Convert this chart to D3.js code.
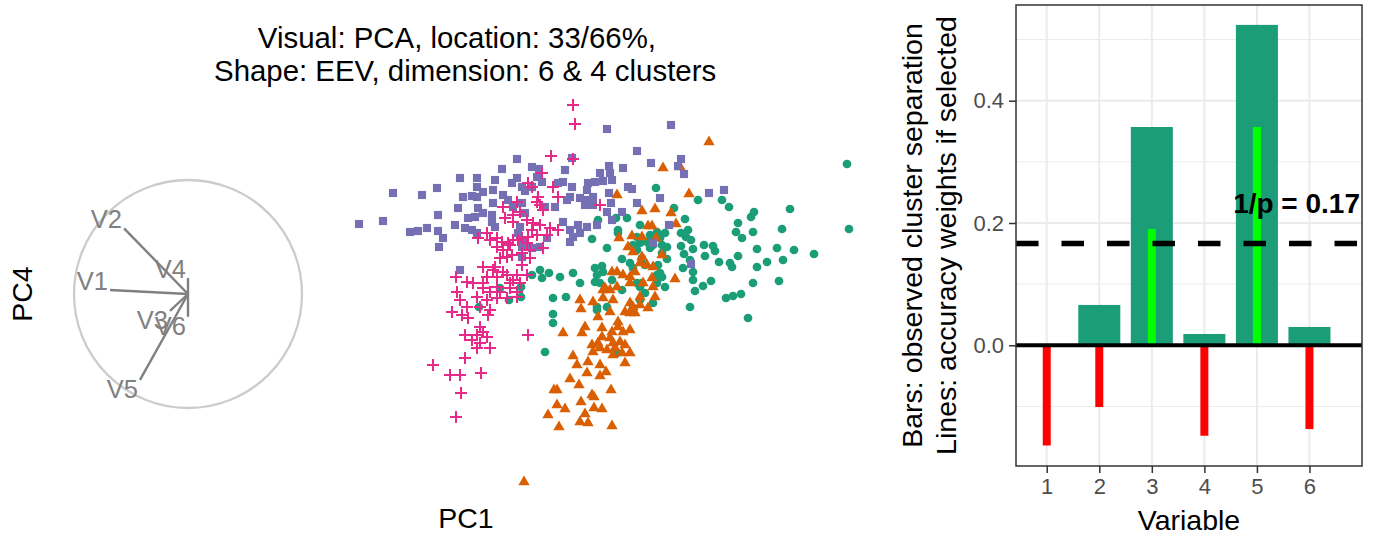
<!DOCTYPE html>
<html><head><meta charset="utf-8">
<script src="https://cdn.jsdelivr.net/npm/d3@7"></script>
<style>
body{margin:0;background:#fff;}
text{font-family:"Liberation Sans",Arial,Helvetica,sans-serif;}
</style>
</head><body>
<svg id="chart" width="1385" height="539"></svg>
<script>
// ---------------- DATA ----------------
const titleLines = ["Visual: PCA, location: 33/66%, ", " Shape: EEV, dimension: 6 & 4 clusters"];
const xTitleLeft = "PC1", yTitleLeft = "PC4";

// cluster scores [PC1, PC4]
const clusterGreen = [
[4.47,1.36],[4.49,0.71],[2.56,1.12],[2.98,1.00],[3.22,1.00],[3.29,0.93],[2.74,0.92],[2.85,0.81],[3.54,0.88],[3.51,0.83],
[3.90,0.91],[3.38,0.77],[3.36,0.68],[3.42,0.62],[3.53,0.68],[3.82,0.71],[2.27,0.82],[2.16,0.82],[1.98,0.80],[2.40,0.75],
[2.57,0.68],[2.65,0.67],[2.55,0.63],[2.50,0.65],[2.81,0.67],[2.88,0.70],[2.91,0.60],[2.86,0.63],[1.92,0.61],[2.18,0.70],
[2.18,0.67],[2.37,0.63],[2.40,0.57],[2.47,0.58],[2.62,0.55],[2.07,0.52],[2.81,0.54],[2.93,0.51],[3.04,0.55],[3.13,0.54],
[3.15,0.49],[2.50,0.52],[2.67,0.53],[2.62,0.47],[2.67,0.41],[3.05,0.44],[2.84,0.46],[2.90,0.40],[3.38,0.44],[3.57,0.51],
[3.77,0.52],[3.94,0.50],[4.14,0.46],[3.19,0.38],[3.30,0.37],[3.32,0.33],[3.57,0.33],[3.67,0.38],[3.83,0.40],[2.22,0.41],
[2.30,0.37],[2.58,0.35],[2.45,0.35],[1.95,0.32],[2.02,0.34],[1.97,0.25],[2.03,0.28],[1.95,0.18],[2.93,0.28],[2.83,0.32],
[2.37,0.17],[2.42,0.17],[2.57,0.25],[2.62,0.23],[2.65,0.13],[2.93,0.20],[3.11,0.19],[3.03,0.14],[2.95,0.09],[3.53,0.17],
[3.79,0.19],[3.26,0.02],[3.33,0.04],[3.41,0.06],[2.90,-0.07],[2.12,0.20],[2.22,0.10],[2.45,0.07],[2.53,-0.03],[2.07,-0.07],
[1.97,-0.07],[2.33,-0.08],[1.80,0.17],[3.48,-0.18],[1.40,0.30],[1.49,0.27],[1.60,0.23],[1.73,0.27],[1.42,0.22],[1.32,0.25],
[1.53,0.02],[1.66,0.03],[1.21,0.13],[1.21,0.03],[1.09,0.00],[0.79,-0.07],[1.53,-0.14],[1.53,-0.23],[1.45,-0.52],[2.17,-0.53],
[2.00,0.17],[2.33,0.32],[2.42,0.42],[1.97,-0.10],[2.40,0.00],[2.57,0.17],[2.60,0.27],[2.53,0.55],[2.60,0.62],[2.33,0.55],
[2.37,0.50],[2.40,0.13],[1.00,0.12]
];
const clusterOrange = [
[3.09,1.58],[2.63,1.32],[2.80,1.33],[2.17,1.05],[2.89,1.06],[2.42,0.89],[2.55,0.91],[2.71,0.87],[2.48,0.74],[2.52,0.74],
[2.76,0.76],[2.19,0.62],[2.32,0.64],[2.42,0.63],[2.56,0.62],[2.28,0.53],[2.33,0.48],[2.42,0.43],[2.62,0.45],[2.47,0.35],
[2.12,0.28],[2.17,0.28],[2.23,0.25],[2.30,0.23],[2.35,0.28],[2.05,0.12],[2.10,0.10],[2.17,0.13],[2.30,0.17],[2.43,0.17],
[2.52,0.22],[2.53,0.13],[2.75,0.21],[1.93,-0.02],[2.03,0.02],[2.13,0.00],[2.30,-0.03],[2.40,0.03],[2.55,0.03],[1.80,0.00],
[2.33,-0.07],[2.48,-0.08],[2.40,0.37],[2.53,0.33],[2.03,0.10],[2.40,-0.05],[2.30,-0.13],[2.25,-0.12],[2.35,-0.13],[1.81,-0.09],
[1.98,-0.17],[2.10,-0.12],[1.85,-0.27],[2.02,-0.28],[1.82,-0.33],[1.63,-0.33],[2.18,-0.22],[2.18,-0.27],[2.12,-0.32],[2.23,-0.32],
[2.30,-0.30],[2.02,-0.37],[2.10,-0.38],[1.98,-0.43],[2.13,-0.43],[2.20,-0.42],[1.92,-0.45],[1.93,-0.52],[2.00,-0.48],[2.07,-0.50],
[2.15,-0.48],[2.25,-0.45],[2.30,-0.53],[2.22,-0.53],[2.13,-0.55],[1.73,-0.56],[1.77,-0.65],[1.88,-0.62],[2.00,-0.65],[2.06,-0.72],
[2.00,-0.76],[1.87,-0.73],[2.25,-0.63],[1.70,-0.79],[1.79,-0.85],[1.54,-0.90],[1.57,-0.90],[1.92,-0.95],[1.94,-0.97],[2.11,-0.90],
[1.81,-1.02],[1.57,-1.05],[1.65,-1.09],[1.94,-1.08],[2.02,-1.09],[1.48,-1.15],[1.85,-1.14],[1.80,-1.22],[1.88,-1.23],[1.59,-1.27],
[2.12,-1.26],[1.24,-1.82]
];
const clusterPurple = [
[-0.07,1.07],[0.22,1.05],[0.37,1.12],[-0.41,0.76],[-0.17,0.79],[0.10,0.68],[0.18,0.69],[0.27,0.72],[0.38,0.85],[0.38,0.69],
[0.43,0.62],[0.39,0.53],[0.55,0.75],[0.65,0.72],[0.72,0.70],[0.77,0.67],[0.60,1.22],[0.77,1.22],[0.77,1.13],[0.77,1.03],
[0.63,1.03],[0.72,1.04],[0.83,1.08],[0.93,1.10],[1.03,1.05],[0.93,0.97],[1.02,1.31],[1.17,1.41],[0.95,1.20],[1.12,1.17],
[1.17,1.22],[0.58,0.92],[0.68,0.82],[0.75,0.83],[0.78,0.92],[0.83,0.87],[0.92,0.85],[0.92,0.78],[0.95,0.73],[1.08,1.00],
[1.13,0.93],[1.22,0.97],[1.25,1.09],[1.22,1.13],[1.32,1.13],[1.32,1.33],[1.39,1.31],[1.37,1.23],[1.42,1.18],[1.25,0.87],
[1.20,0.73],[1.18,0.67],[1.23,0.58],[1.22,0.53],[1.32,0.52],[1.40,0.53],[1.47,0.62],[1.45,0.93],[1.55,0.93],[1.58,1.17],
[1.63,1.18],[1.72,1.13],[1.65,1.30],[1.72,1.42],[1.70,1.03],[1.67,1.00],[1.80,1.02],[1.87,1.00],[1.93,1.03],[1.85,0.95],
[1.93,0.95],[1.88,1.17],[1.95,1.18],[1.87,1.10],[2.00,1.27],[1.63,0.78],[1.70,0.70],[1.73,0.63],[1.70,0.58],[1.78,0.75],
[1.87,0.73],[1.97,0.75],[0.60,0.30],[1.80,0.67],[1.22,0.43],[2.07,1.71],[2.71,1.75],[2.37,1.49],[2.09,1.34],[2.23,1.32],
[2.10,1.27],[2.12,1.20],[2.03,1.19],[2.51,1.37],[2.81,1.41],[2.78,1.34],[2.84,1.26],[2.28,1.13],[2.32,1.11],[2.09,1.07],
[2.37,0.97],[2.60,1.02],[2.11,0.97],[2.07,0.88],[2.22,0.88],[3.09,1.07],[3.24,1.10],[2.12,0.80],[2.69,0.75],[2.53,0.57],
[2.91,0.36]
];
const clusterPink = [
[1.73,1.95],[1.75,1.76],[1.51,1.44],[1.73,1.41],[1.42,1.27],[1.28,1.17],[1.32,1.13],[1.53,1.13],[1.58,1.03],[1.38,1.03],
[1.37,0.98],[1.40,0.95],[1.17,0.98],[1.03,0.93],[1.20,0.88],[1.13,0.85],[1.43,0.90],[1.05,0.82],[1.13,0.78],[1.27,0.80],
[1.33,0.77],[1.40,0.75],[1.32,0.70],[1.50,0.72],[1.58,0.70],[1.47,0.65],[0.87,0.67],[0.78,0.62],[0.97,0.62],[1.02,0.58],
[1.08,0.57],[1.13,0.60],[1.22,0.62],[1.28,0.63],[1.27,0.57],[0.97,0.53],[1.03,0.50],[1.12,0.45],[1.22,0.47],[1.30,0.42],
[1.00,0.42],[1.07,0.43],[1.22,0.35],[0.83,0.33],[0.93,0.30],[1.03,0.28],[0.56,0.23],[0.67,0.18],[0.73,0.17],[0.87,0.23],
[0.97,0.23],[1.07,0.25],[1.17,0.25],[1.27,0.25],[0.83,0.17],[0.97,0.13],[1.10,0.17],[1.20,0.17],[0.90,0.60],[1.10,0.55],
[1.18,0.60],[1.37,0.65],[1.30,0.50],[1.43,0.52],[0.95,0.33],[1.13,0.20],[0.83,0.12],[0.90,0.08],[1.00,0.08],[1.10,0.12],
[1.17,0.08],[0.57,0.08],[0.60,0.00],[0.77,0.03],[0.87,0.00],[0.97,0.02],[1.07,0.02],[1.17,0.03],[0.67,-0.07],[0.80,-0.07],
[0.90,-0.10],[0.88,-0.15],[0.52,-0.12],[0.62,-0.15],[0.68,-0.18],[0.80,-0.27],[0.83,-0.32],[0.77,-0.35],[0.87,-0.37],[0.65,-0.35],
[0.72,-0.40],[0.80,-0.43],[0.90,-0.48],[0.77,-0.48],[1.28,-0.35],[0.65,-0.58],[0.33,-0.65],[0.50,-0.75],[0.60,-0.75],[0.81,-0.73],
[0.61,-0.93],[0.56,-1.17],[2.00,0.95]
];

// projection axes (biplot) on the unit circle
const axisNames = ["V1","V2","V3","V4","V5","V6"];
const axisX = [-0.684,-0.561,-0.158,0.0,-0.421,0.0];
const axisY = [0.035,0.576,-0.149,0.14,-0.754,-0.20];
const axisCentre = [-2.12, 0.06];
const axisRadius = 1.14;

// bar chart
const variables = [1,2,3,4,5,6];
const separation = [0.0, 0.066, 0.357, 0.0185, 0.524, 0.030];
const accuracyWeights = [-0.164, -0.101, 0.190, -0.148, 0.357, -0.137];
const barYTicks = [0.0, 0.2, 0.4];
const barYMinor = [-0.1, 0.1, 0.3, 0.5];
const pInv = 1/6;
const pLabel = "1/p = 0.17";
const barXTitle = "Variable";
const barYTitle = ["Bars: observed cluster separation", "Lines: accuracy weights if selected"];

// ---------------- DRAW ----------------
const svg = d3.select("#chart");
svg.append("rect").attr("width",1385).attr("height",539).attr("fill","#fff");

// ----- left panel -----
const xS = d3.scaleLinear().domain([-3.5, 4.9]).range([50, 890]);
const yS = d3.scaleLinear().domain([2.94, -2.0]).range([6, 500]);
const left = svg.append("g");

// title
left.append("g").selectAll("text").data(titleLines).join("text")
  .attr("x", 461).attr("y", (d,i)=> 48 + i*32.5)
  .attr("text-anchor","middle").attr("font-size",29.4).attr("fill","#000")
  .style("white-space","pre").text(d=>d);

// axis titles
left.append("text").attr("x",466).attr("y",528).attr("text-anchor","middle")
  .attr("font-size",28.5).text(xTitleLeft);
left.append("text").attr("transform","translate(32,294) rotate(-90)").attr("text-anchor","middle")
  .attr("font-size",28.5).text(yTitleLeft);

// biplot circle + axes
const cx = xS(axisCentre[0]), cy = yS(axisCentre[1]);
const rPx = xS(axisCentre[0]+axisRadius) - cx;
left.append("circle").attr("cx",cx).attr("cy",cy).attr("r",rPx)
  .attr("fill","none").attr("stroke","#cccccc").attr("stroke-width",2.3);
const axes = axisNames.map((n,i)=>({name:n, x:axisCentre[0]+axisX[i]*axisRadius, y:axisCentre[1]+axisY[i]*axisRadius, up: axisY[i]>=0}));
left.append("g").selectAll("line").data(axes).join("line")
  .attr("x1",cx).attr("y1",cy).attr("x2",d=>xS(d.x)).attr("y2",d=>yS(d.y))
  .attr("stroke","#808080").attr("stroke-width",2.4);
left.append("g").selectAll("text").data(axes).join("text")
  .attr("x",d=>xS(d.x)-2).attr("y",d=> d.up ? yS(d.y) : yS(d.y)+18.5)
  .attr("text-anchor","end").attr("font-size",25.5).attr("fill","#808080").text(d=>d.name);

// points
const gPts = left.append("g");
gPts.selectAll("path.g").data(clusterGreen).join("path").attr("class","g")
  .attr("d", d3.symbol(d3.symbolCircle, 60)())
  .attr("transform", d=>`translate(${xS(d[0])},${yS(d[1])})`).attr("fill","#1B9E77");
gPts.selectAll("path.o").data(clusterOrange).join("path").attr("class","o")
  .attr("d", d3.symbol(d3.symbolTriangle, 56)())
  .attr("transform", d=>`translate(${xS(d[0])},${yS(d[1])})`).attr("fill","#D95F02");
gPts.selectAll("path.p").data(clusterPurple).join("path").attr("class","p")
  .attr("d", d3.symbol(d3.symbolSquare, 66)())
  .attr("transform", d=>`translate(${xS(d[0])},${yS(d[1])})`).attr("fill","#7570B3");
gPts.selectAll("path.k").data(clusterPink).join("path").attr("class","k")
  .attr("d", "M-6,0H6M0,-6V6")
  .attr("transform", d=>`translate(${xS(d[0])},${yS(d[1])})`)
  .attr("fill","none").attr("stroke","#E7298A").attr("stroke-width",2);

// ----- right panel: bar chart -----
const pL = 1016, pR = 1362, pT = 5, pB = 466;
const bx = d3.scaleLinear().domain([0.415, 7.0]).range([pL, pR]);
const by = d3.scaleLinear().domain([-0.1974, 0.5565]).range([pB, pT]);
const right = svg.append("g");

// grid
right.append("g").selectAll("line").data(barYMinor).join("line")
  .attr("x1",pL).attr("x2",pR).attr("y1",d=>by(d)).attr("y2",d=>by(d))
  .attr("stroke","#EBEBEB").attr("stroke-width",1);
right.append("g").selectAll("line").data(barYTicks).join("line")
  .attr("x1",pL).attr("x2",pR).attr("y1",d=>by(d)).attr("y2",d=>by(d))
  .attr("stroke","#EBEBEB").attr("stroke-width",2);
right.append("g").selectAll("line").data(variables).join("line")
  .attr("y1",pT).attr("y2",pB).attr("x1",d=>bx(d)).attr("x2",d=>bx(d))
  .attr("stroke","#EBEBEB").attr("stroke-width",2);

// bars
const bw = bx(0.8) - bx(0);
right.append("g").selectAll("rect").data(variables).join("rect")
  .attr("x",(d,i)=>bx(d)-bw/2).attr("width",bw)
  .attr("y",(d,i)=>by(Math.max(0,separation[i])))
  .attr("height",(d,i)=>Math.abs(by(separation[i])-by(0)))
  .attr("fill","#1B9E77");

// weight segments
right.append("g").selectAll("line").data(variables).join("line")
  .attr("x1",d=>bx(d)).attr("x2",d=>bx(d))
  .attr("y1",by(0)).attr("y2",(d,i)=>by(accuracyWeights[i]))
  .attr("stroke",(d,i)=>accuracyWeights[i] >= 0 ? "#00FF00" : "#FF0000")
  .attr("stroke-width",8);

// zero line
right.append("line").attr("x1",pL).attr("x2",pR).attr("y1",by(0)).attr("y2",by(0))
  .attr("stroke","#000").attr("stroke-width",4);
// 1/p dashed line
right.append("line").attr("x1",pL).attr("x2",pR).attr("y1",by(pInv)).attr("y2",by(pInv))
  .attr("stroke","#000").attr("stroke-width",5.5).attr("stroke-dasharray","22.5,23");
right.append("text").attr("x",bx(7.0)-2).attr("y",by(pInv+0.05))
  .attr("text-anchor","end").attr("font-size",28).attr("font-weight","bold").text(pLabel);

// border
right.append("rect").attr("x",pL).attr("y",pT).attr("width",pR-pL).attr("height",pB-pT)
  .attr("fill","none").attr("stroke","#333333").attr("stroke-width",1.5);

// axes
const yAx = right.append("g").attr("transform",`translate(${pL},0)`)
  .call(d3.axisLeft(by).tickValues(barYTicks).tickFormat(d3.format(".1f")).tickSize(7).tickPadding(5));
const xAx = right.append("g").attr("transform",`translate(0,${pB})`)
  .call(d3.axisBottom(bx).tickValues(variables).tickFormat(d3.format("d")).tickSize(7).tickPadding(5));
[yAx,xAx].forEach(a=>{
  a.select(".domain").remove();
  a.selectAll(".tick line").attr("stroke","#333333").attr("stroke-width",1.5);
  a.selectAll(".tick text").attr("fill","#4D4D4D").attr("font-size",22)
    .attr("font-family","Liberation Sans, Arial, sans-serif");
});

right.append("text").attr("x",(pL+pR)/2).attr("y",530).attr("text-anchor","middle")
  .attr("font-size",28.5).text(barXTitle);
right.append("g").selectAll("text").data(barYTitle).join("text")
  .attr("transform",(d,i)=>`translate(${922 + i*34},${(pT+pB)/2}) rotate(-90)`)
  .attr("text-anchor","middle").attr("font-size",28.5).text(d=>d);
</script>
</body></html>
